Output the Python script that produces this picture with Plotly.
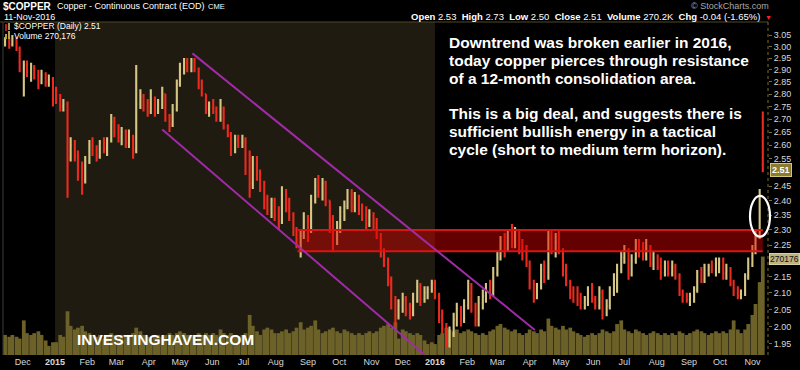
import math
import pandas as pd
import plotly.graph_objects as go

# ---------------- canvas / pixel helpers (positions only) ----------------
W, H = 800, 370
ML, MR, MT, MB = 3, 32, 22, 13
PW, PH = W - ML - MR, H - MT - MB


def px(x):
    return (x - ML) / PW


def py(y):
    return (H - MB - y) / PH


# ---------------- data (half-week bars) ----------------
bar_dates = pd.date_range("2014-11-18", "2016-11-08", freq="W-TUE").union(
    pd.date_range("2014-11-14", "2016-11-11", freq="W-FRI"))

open_prices = [
    3.02, 3.03, 3.01, 3.03, 2.99,                                  # Nov 2014
    2.91, 2.92, 2.89, 2.91, 2.88, 2.85, 2.88, 2.85, 2.86,          # Dec 2014
    2.82, 2.78, 2.75, 2.76, 2.55, 2.60, 2.56, 2.50, 2.47,          # Jan 2015
    2.54, 2.60, 2.58, 2.56, 2.61, 2.59, 2.62, 2.69,                # Feb
    2.65, 2.63, 2.65, 2.61, 2.63, 2.58, 2.76, 2.79, 2.75,          # Mar
    2.73, 2.78, 2.73, 2.76, 2.80, 2.71, 2.68, 2.74,                # Apr
    2.84, 2.91, 2.93, 2.91, 2.94, 2.90, 2.84, 2.80, 2.74,          # May
    2.75, 2.73, 2.70, 2.74, 2.67, 2.64, 2.58, 2.62, 2.61,          # Jun
    2.62, 2.52, 2.46, 2.53, 2.50, 2.45, 2.39, 2.37, 2.40,          # Jul
    2.35, 2.33, 2.42, 2.38, 2.35, 2.30, 2.26, 2.28,                # Aug
    2.33, 2.30, 2.40, 2.45, 2.43, 2.46, 2.40, 2.31, 2.27,          # Sep
    2.31, 2.36, 2.38, 2.42, 2.38, 2.41, 2.37, 2.35, 2.32,          # Oct
    2.35, 2.31, 2.28, 2.23, 2.20, 2.14, 2.07, 2.03,                # Nov
    2.06, 2.08, 2.05, 2.04, 2.08, 2.12, 2.08, 2.10, 2.11,          # Dec
    2.13, 2.09, 2.03, 2.00, 1.96, 1.98, 2.02, 2.05, 2.02,          # Jan 2016
    2.06, 2.10, 2.06, 2.02, 2.07, 2.09, 2.11, 2.10,                # Feb
    2.16, 2.21, 2.26, 2.24, 2.28, 2.26, 2.29, 2.24, 2.22,          # Mar
    2.19, 2.13, 2.09, 2.12, 2.17, 2.15, 2.27, 2.24, 2.26,          # Apr
    2.23, 2.17, 2.13, 2.10, 2.09, 2.08, 2.07, 2.08, 2.10,          # May
    2.08, 2.06, 2.10, 2.04, 2.06, 2.10, 2.14, 2.17,                # Jun
    2.21, 2.23, 2.16, 2.20, 2.25, 2.23, 2.22, 2.24, 2.19,          # Jul
    2.21, 2.18, 2.16, 2.19, 2.16, 2.18, 2.15, 2.10, 2.09,          # Aug
    2.08, 2.09, 2.11, 2.15, 2.14, 2.17, 2.18, 2.17, 2.19,          # Sep
    2.20, 2.16, 2.17, 2.13, 2.10, 2.09, 2.10, 2.15,                # Oct
    2.19, 2.23, 2.28, 2.53,                                        # Nov
]
high_prices = [
    3.04, 3.04, 3.05, 3.04, 3.00,
    2.94, 2.94, 2.93, 2.92, 2.90, 2.90, 2.89, 2.88, 2.87,
    2.83, 2.80, 2.78, 2.77, 2.63, 2.62, 2.58, 2.54, 2.56,
    2.62, 2.63, 2.60, 2.62, 2.63, 2.63, 2.72, 2.71,
    2.68, 2.67, 2.66, 2.66, 2.64, 2.92, 2.82, 2.80, 2.78,
    2.82, 2.79, 2.78, 2.83, 2.80, 2.72, 2.76, 2.86,
    2.93, 2.95, 2.95, 2.95, 2.95, 2.91, 2.86, 2.80, 2.77,
    2.78, 2.75, 2.78, 2.75, 2.68, 2.65, 2.64, 2.64, 2.64,
    2.63, 2.58, 2.56, 2.56, 2.51, 2.47, 2.42, 2.41, 2.41,
    2.38, 2.45, 2.44, 2.41, 2.36, 2.31, 2.30, 2.36,
    2.35, 2.42, 2.48, 2.49, 2.48, 2.47, 2.40, 2.35, 2.33,
    2.38, 2.40, 2.44, 2.44, 2.43, 2.42, 2.39, 2.38, 2.37,
    2.36, 2.34, 2.29, 2.24, 2.21, 2.15, 2.09, 2.08,
    2.10, 2.09, 2.07, 2.10, 2.14, 2.13, 2.12, 2.12, 2.14,
    2.14, 2.10, 2.05, 2.01, 2.00, 2.04, 2.07, 2.06, 2.08,
    2.14, 2.13, 2.07, 2.09, 2.11, 2.13, 2.14, 2.18,
    2.23, 2.28, 2.29, 2.30, 2.32, 2.31, 2.30, 2.27, 2.25,
    2.20, 2.14, 2.13, 2.19, 2.20, 2.30, 2.30, 2.29, 2.30,
    2.24, 2.19, 2.14, 2.12, 2.12, 2.10, 2.09, 2.12, 2.13,
    2.09, 2.12, 2.11, 2.08, 2.12, 2.16, 2.19, 2.23,
    2.25, 2.24, 2.22, 2.27, 2.27, 2.26, 2.27, 2.25, 2.23,
    2.22, 2.21, 2.20, 2.20, 2.20, 2.19, 2.16, 2.11, 2.10,
    2.10, 2.12, 2.17, 2.18, 2.19, 2.19, 2.20, 2.21, 2.21,
    2.21, 2.19, 2.18, 2.14, 2.12, 2.11, 2.16, 2.21,
    2.25, 2.30, 2.44, 2.73,
]
low_prices = [
    3.00, 2.99, 3.00, 2.98, 2.89,
    2.79, 2.87, 2.85, 2.86, 2.82, 2.84, 2.83, 2.83, 2.75,
    2.76, 2.73, 2.73, 2.41, 2.54, 2.54, 2.47, 2.42, 2.46,
    2.53, 2.56, 2.54, 2.55, 2.57, 2.56, 2.61, 2.63,
    2.61, 2.60, 2.59, 2.59, 2.55, 2.57, 2.74, 2.73, 2.71,
    2.72, 2.71, 2.72, 2.74, 2.69, 2.65, 2.67, 2.73,
    2.83, 2.88, 2.89, 2.89, 2.89, 2.82, 2.79, 2.72, 2.71,
    2.72, 2.69, 2.69, 2.66, 2.63, 2.56, 2.57, 2.59, 2.59,
    2.49, 2.41, 2.44, 2.47, 2.43, 2.37, 2.35, 2.34, 2.33,
    2.30, 2.32, 2.36, 2.33, 2.28, 2.24, 2.21, 2.27,
    2.26, 2.29, 2.39, 2.41, 2.40, 2.38, 2.29, 2.23, 2.25,
    2.29, 2.33, 2.37, 2.36, 2.36, 2.35, 2.33, 2.30, 2.31,
    2.30, 2.27, 2.21, 2.18, 2.12, 2.05, 2.00, 2.02,
    2.04, 2.03, 2.02, 2.03, 2.07, 2.06, 2.07, 2.08, 2.10,
    2.08, 2.01, 1.98, 1.94, 1.94, 1.97, 2.00, 2.00, 2.01,
    2.05, 2.04, 2.00, 2.00, 2.05, 2.07, 2.08, 2.09,
    2.15, 2.20, 2.21, 2.23, 2.24, 2.24, 2.22, 2.20, 2.18,
    2.11, 2.07, 2.08, 2.11, 2.13, 2.14, 2.22, 2.21, 2.22,
    2.15, 2.12, 2.08, 2.07, 2.06, 2.05, 2.05, 2.06, 2.07,
    2.05, 2.05, 2.02, 2.03, 2.05, 2.09, 2.10, 2.16,
    2.19, 2.14, 2.15, 2.19, 2.21, 2.20, 2.20, 2.18, 2.17,
    2.17, 2.14, 2.15, 2.15, 2.15, 2.14, 2.09, 2.07, 2.07,
    2.06, 2.07, 2.10, 2.13, 2.13, 2.15, 2.16, 2.15, 2.16,
    2.14, 2.14, 2.12, 2.09, 2.08, 2.08, 2.09, 2.14,
    2.18, 2.22, 2.27, 2.50,
]
close_prices = [
    3.03, 3.01, 3.03, 2.99, 2.91,
    2.92, 2.89, 2.91, 2.88, 2.85, 2.88, 2.85, 2.86, 2.82,
    2.78, 2.75, 2.76, 2.55, 2.60, 2.56, 2.50, 2.47, 2.54,
    2.60, 2.58, 2.56, 2.61, 2.59, 2.62, 2.69, 2.65,
    2.63, 2.65, 2.61, 2.63, 2.58, 2.76, 2.79, 2.75, 2.73,
    2.78, 2.73, 2.76, 2.80, 2.71, 2.68, 2.74, 2.84,
    2.91, 2.93, 2.91, 2.94, 2.90, 2.84, 2.80, 2.74, 2.75,
    2.73, 2.70, 2.74, 2.67, 2.64, 2.58, 2.62, 2.61, 2.62,
    2.52, 2.46, 2.53, 2.50, 2.45, 2.39, 2.37, 2.40, 2.35,
    2.33, 2.42, 2.38, 2.35, 2.30, 2.26, 2.28, 2.33,
    2.30, 2.40, 2.45, 2.43, 2.46, 2.40, 2.31, 2.30, 2.31,
    2.36, 2.38, 2.42, 2.38, 2.41, 2.37, 2.35, 2.32, 2.35,
    2.31, 2.28, 2.23, 2.20, 2.14, 2.07, 2.03, 2.06,
    2.08, 2.05, 2.04, 2.08, 2.12, 2.08, 2.10, 2.11, 2.13,
    2.09, 2.03, 2.00, 1.96, 1.98, 2.02, 2.05, 2.02, 2.06,
    2.10, 2.06, 2.02, 2.07, 2.09, 2.11, 2.10, 2.16,
    2.21, 2.26, 2.24, 2.28, 2.26, 2.29, 2.24, 2.22, 2.19,
    2.13, 2.09, 2.12, 2.17, 2.15, 2.27, 2.24, 2.26, 2.23,
    2.17, 2.13, 2.10, 2.09, 2.08, 2.07, 2.08, 2.10, 2.08,
    2.06, 2.10, 2.04, 2.06, 2.10, 2.14, 2.17, 2.21,
    2.23, 2.16, 2.20, 2.25, 2.23, 2.22, 2.24, 2.19, 2.21,
    2.18, 2.16, 2.19, 2.16, 2.18, 2.15, 2.10, 2.09, 2.08,
    2.09, 2.11, 2.15, 2.14, 2.17, 2.18, 2.17, 2.19, 2.20,
    2.16, 2.17, 2.13, 2.10, 2.09, 2.10, 2.15, 2.19,
    2.23, 2.27, 2.42, 2.51,
]
volume_k = [
    55, 50, 55, 50, 45,
    95, 60, 55, 60, 65, 55, 40, 25, 35,
    35, 55, 50, 120, 80, 70, 75, 80, 65,
    60, 55, 50, 55, 45, 50, 60, 55,
    50, 55, 50, 55, 60, 75, 65, 55, 50,
    45, 50, 55, 50, 55, 60, 55, 60,
    65, 60, 55, 55, 50, 60, 55, 60, 55,
    60, 55, 70, 60, 55, 60, 55, 50, 55,
    60, 110, 80, 65, 55, 70, 75, 70, 60,
    60, 65, 70, 60, 65, 75, 90, 70,
    75, 80, 95, 70, 60, 65, 70, 75, 65,
    60, 70, 65, 60, 55, 60, 55, 60, 65,
    60, 65, 75, 80, 85, 75, 90, 45,
    70, 65, 60, 55, 60, 55, 40, 30, 35,
    30, 55, 60, 75, 70, 65, 70, 60, 65,
    70, 65, 60, 55, 60, 55, 65, 70,
    80, 85, 75, 70, 65, 70, 60, 55, 60,
    70, 65, 60, 70, 65, 100, 80, 75, 70,
    80, 70, 75, 65, 60, 55, 50, 55, 60,
    55, 60, 70, 65, 60, 65, 85, 95,
    70, 65, 60, 70, 65, 60, 55, 60, 65,
    60, 55, 60, 55, 60, 55, 65, 60, 55,
    60, 65, 70, 65, 60, 55, 60, 65, 60,
    65, 60, 70, 95, 70, 60, 70, 85,
    110, 140, 200, 270.176,
]

# consolidation zone and trend channel (annotation drawings, in data terms)
zone_dates = ["2015-08-22", "2016-11-11"]
zone_low, zone_high = 2.23, 2.30
upper_channel_dates = ["2015-05-13", "2016-04-06"]
upper_channel_prices = [2.97, 1.99]
lower_channel_dates = ["2015-04-14", "2015-12-22"]
lower_channel_prices = [2.66, 1.92]

price_ticks = [1.95, 2.00, 2.05, 2.10, 2.15, 2.25, 2.30, 2.35, 2.40, 2.45, 2.55,
               2.60, 2.65, 2.70, 2.75, 2.80, 2.85, 2.90, 2.95, 3.00, 3.05]
price_tick_labels = ["1.95", "2.00", "2.05", "2.10", "2.15", "2.25", "2.30", "2.35",
                     "2.40", "2.45", "2.55", "2.60", "2.65", "2.70", "2.75", "2.80",
                     "2.85", "2.90", "2.95", "3.00", "3.05"]
month_ticks = pd.date_range("2014-12-01", "2016-11-01", freq="MS")
month_labels = ["Dec", "<b>2015</b>", "Feb", "Mar", "Apr", "May", "Jun", "Jul", "Aug",
                "Sep", "Oct", "Nov", "Dec", "<b>2016</b>", "Feb", "Mar", "Apr", "May",
                "Jun", "Jul", "Aug", "Sep", "Oct", "Nov"]

text_lines = [
    "Downtrend was broken earlier in 2016,",
    "today copper pierces through resistance",
    "of a 12-month consolidation area.",
    "This is a big deal, and suggests there is",
    "sufficient bullish energy in a tactical",
    "cycle (short to medium term horizon).",
]

RED = "#ec2a1e"
KHAKI = "#d6c684"
OLIVE = "#6c6229"
PURPLE = "#a02ba8"

fig = go.Figure()

# volume (base axis, drawn underneath)
fig.add_trace(go.Bar(
    x=bar_dates, y=volume_k, yaxis="y", marker_color=OLIVE, marker_line_width=0,
    width=3.6 * 86400000, hoverinfo="skip"))

# price bars
fig.add_trace(go.Ohlc(
    x=bar_dates, open=open_prices, high=high_prices, low=low_prices, close=close_prices,
    yaxis="y2", tickwidth=0.35,
    increasing=dict(line=dict(color=KHAKI, width=2.1)),
    decreasing=dict(line=dict(color=RED, width=2.1)),
    hoverinfo="skip"))

# consolidation zone
fig.add_trace(go.Scatter(
    x=[zone_dates[0], zone_dates[1], zone_dates[1], zone_dates[0], zone_dates[0]],
    y=[zone_low, zone_low, zone_high, zone_high, zone_low], yaxis="y2",
    mode="lines", fill="toself", fillcolor="rgba(220,0,0,0.45)",
    line=dict(width=0), hoverinfo="skip"))
for lvl in (zone_low, zone_high):
    fig.add_trace(go.Scatter(
        x=zone_dates, y=[lvl, lvl], yaxis="y2", mode="lines",
        line=dict(color="#d81414", width=2), hoverinfo="skip"))

# trend channel
fig.add_trace(go.Scatter(
    x=upper_channel_dates, y=upper_channel_prices, yaxis="y2", mode="lines",
    line=dict(color=PURPLE, width=2), hoverinfo="skip"))
fig.add_trace(go.Scatter(
    x=lower_channel_dates, y=lower_channel_prices, yaxis="y2", mode="lines",
    line=dict(color=PURPLE, width=2), hoverinfo="skip"))

shapes = [
    # 2015 shaded year
    dict(type="rect", xref="x", yref="paper", x0="2015-01-01", x1="2016-01-01",
         y0=0, y1=1, fillcolor="#201b11", line=dict(width=0), layer="below"),
    # header separator
    dict(type="line", xref="paper", yref="paper", x0=px(0), x1=1, y0=1, y1=1,
         line=dict(color="#4f4826", width=1)),
    # left border
    dict(type="line", xref="paper", yref="paper", x0=0, x1=0, y0=0, y1=1,
         line=dict(color="#3c3c3c", width=1)),
    # right axis dotted line
    dict(type="line", xref="paper", yref="paper", x0=1, x1=1, y0=0, y1=1,
         line=dict(color="#7a6e30", width=1, dash="dot")),
    # highlight ellipse
    dict(type="circle", xref="paper", yref="paper", x0=px(750), x1=px(770),
         y0=py(238), y1=py(197), line=dict(color="white", width=2.2)),
    # legend icons
    dict(type="line", xref="paper", yref="paper", x0=px(6), x1=px(6), y0=py(31), y1=py(24),
         line=dict(color=RED, width=1.5)),
    dict(type="line", xref="paper", yref="paper", x0=px(9), x1=px(9), y0=py(30), y1=py(23),
         line=dict(color=KHAKI, width=1.5)),
    dict(type="rect", xref="paper", yref="paper", x0=px(5), x1=px(7), y0=py(39), y1=py(34),
         fillcolor="#b8a040", line=dict(width=0)),
    dict(type="rect", xref="paper", yref="paper", x0=px(8), x1=px(10), y0=py(39), y1=py(31),
         fillcolor="#b8a040", line=dict(width=0)),
]

FONT = "Liberation Sans, Arial, sans-serif"


def ann(x, y, text, size, color="white", xanchor="left", bold=False, **kw):
    return dict(xref="paper", yref="paper", x=px(x), y=py(y),
                text=(f"<b>{text}</b>" if bold else text),
                showarrow=False, xanchor=xanchor, yanchor="middle",
                font=dict(family=FONT, size=size, color=color), **kw)


annotations = [
    ann(1, 6, "$COPPER", 10, bold=True),
    ann(55, 6, "Copper - Continuous Contract (EOD)", 9),
    ann(206, 6, "CME", 7.5),
    ann(2, 17, "11-Nov-2016", 9),
    ann(771, 6, "© StockCharts.com", 9, color="#a8a8a8", xanchor="right"),
    ann(762, 16.5, "<b>Open</b> 2.53  <b>High</b> 2.73  <b>Low</b> 2.50  <b>Close</b> 2.51  "
                   "<b>Volume</b> 270.2K  <b>Chg</b> -0.04 (-1.65%)", 9.5, xanchor="right"),
    ann(763, 17.5, "▼", 7, color="#ff2020"),
    ann(12, 26.5, "$COPPER (Daily) 2.51", 8.5),
    ann(12, 36, "Volume 270,176", 8.5),
    ann(75, 341, "INVESTINGHAVEN.COM", 15.5, bold=True),
    ann(770, 171, "<b>2.51</b>", 9, bgcolor="#8a7a32", bordercolor="#d4c47c",
        borderwidth=1, borderpad=1),
    ann(769, 260, "270176", 8.5, color="#111111", bgcolor="#bcb282",
        bordercolor="#d8d0a0", borderwidth=1, borderpad=0),
]
line_y = [43, 61, 79, 114, 132, 150]
for t, yv in zip(text_lines, line_y):
    annotations.append(ann(447, yv, t, 15.5, bold=True))

fig.update_layout(
    width=W, height=H, margin=dict(l=ML, r=MR, t=MT, b=MB, pad=0),
    paper_bgcolor="black", plot_bgcolor="black", showlegend=False,
    font=dict(family=FONT, color="#d8d8d8"),
    xaxis=dict(type="date", range=["2014-11-12", "2016-11-16"], showgrid=False,
               zeroline=False, showline=False, ticks="", tickvals=month_ticks,
               ticktext=month_labels, tickfont=dict(size=9, color="#d8d8d8"),
               rangeslider=dict(visible=False), fixedrange=True),
    yaxis=dict(range=[0, 914], visible=False, fixedrange=True),
    yaxis2=dict(type="log", overlaying="y", side="right",
                range=[math.log10(1.919), math.log10(3.108)],
                tickvals=price_ticks, ticktext=price_tick_labels,
                tickfont=dict(size=9, color="#d8d8d8"), showgrid=False, zeroline=False,
                showline=False, ticks="outside", ticklen=3, tickcolor="#7a6e30",
                fixedrange=True),
    shapes=shapes, annotations=annotations,
)

fig.write_html("out.html", config={"displayModeBar": False},
               post_script="document.body.style.margin='0';document.body.style.overflow='hidden';")
